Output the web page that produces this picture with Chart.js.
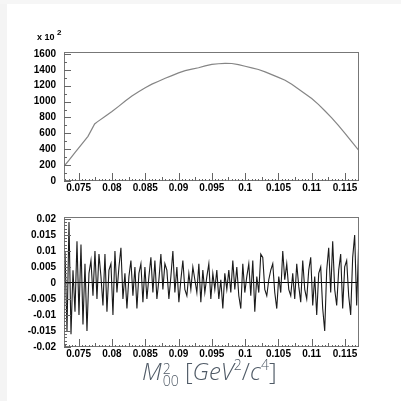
<!DOCTYPE html>
<html><head><meta charset="utf-8">
<script src="https://cdn.jsdelivr.net/npm/chart.js@4.4.1/dist/chart.umd.min.js"></script>
<style>
html,body{margin:0;padding:0;background:#fff;width:401px;height:401px;overflow:hidden;position:relative}
#strip{position:absolute;left:0;top:0;width:7px;height:401px;background:#f4f4f4}
#topstrip{position:absolute;left:0;top:0;width:401px;height:4px;background:#f6f6f6}
#c1{position:absolute;left:0;top:0}
#c2{position:absolute;left:0;top:200px}
#scale{position:absolute;left:37px;top:29px;font:bold 9px "Liberation Sans",Arial,sans-serif;color:#000;white-space:nowrap}
#scale sup{font-size:8px;position:relative;top:-1px}
#title{position:absolute;left:142px;top:357px;font-family:"Open Sans",sans-serif;font-weight:300;font-size:24px;color:#4f5a66;white-space:nowrap;line-height:28px}
#title i{font-style:italic}
#title .ss{display:inline-block;vertical-align:-6px;line-height:12px;font-size:14px;margin-left:1px}
#title sup{font-size:14px;vertical-align:10px;line-height:0}
</style>
</head><body>
<div id="strip"></div><div id="topstrip"></div>
<canvas id="c1" width="401" height="200"></canvas>
<canvas id="c2" width="401" height="170"></canvas>
<div id="scale">x 10 <sup>2</sup></div>
<div id="title"><i>M</i><span class="ss">2<br>00</span> [<i>GeV</i><sup>2</sup>/<i>c</i><sup>4</sup>]</div>
<script>
// ---- data ----
const xTickValues = [0.075, 0.08, 0.085, 0.09, 0.095, 0.1, 0.105, 0.11, 0.115];
const xTickLabels = ['0.075','0.08','0.085','0.09','0.095','0.1','0.105','0.11','0.115'];
const topTickValues = [0,200,400,600,800,1000,1200,1400,1600];
const topTickLabels = ['0','200','400','600','800','1000','1200','1400','1600'];
const botTickValues = [-0.02,-0.015,-0.01,-0.005,0,0.005,0.01,0.015,0.02];
const botTickLabels = ['-0.02','-0.015','-0.01','-0.005','0','0.005','0.01','0.015','0.02'];

const distX = [0.0728,0.0735,0.0745,0.0755,0.0764,0.0774,0.0778,0.079,0.080,0.081,0.082,0.083,0.084,0.085,0.086,0.087,0.088,0.089,0.090,0.091,0.092,0.093,0.094,0.095,0.096,0.097,0.098,0.099,0.100,0.101,0.102,0.103,0.104,0.105,0.106,0.107,0.108,0.109,0.110,0.111,0.112,0.113,0.114,0.115,0.116,0.1171];
const distY = [185,258,363,468,563,718,745,815,875,940,1008,1070,1125,1175,1220,1257,1295,1328,1362,1390,1410,1427,1450,1468,1477,1482,1480,1465,1445,1425,1405,1375,1340,1305,1270,1218,1160,1100,1040,965,882,795,700,600,495,382];

const resStart = 0.0728, resBinWidth = 0.0003;
const resY = [0.010,-0.015,0.019,-0.016,0.004,-0.009,0.013,-0.010,0.012,-0.013,
0.006,-0.015,0.003,0.007,-0.004,0.010,-0.005,0.009,0.002,-0.007,
0.009,-0.009,0.004,0.006,-0.010,0.010,-0.003,0.005,0.011,-0.005,
0.003,-0.008,0.002,0.007,-0.004,0.005,-0.008,0.003,0.006,-0.006,
0.005,-0.005,0.002,0.008,-0.003,0.007,-0.005,0.001,0.009,-0.002,
0.006,0.004,-0.005,0.002,0.010,-0.003,0.005,-0.006,0.001,0.007,
-0.002,-0.004,0.003,-0.002,0.005,0.001,-0.003,0.006,-0.006,0.004,
-0.003,0.002,0.006,-0.005,0.003,-0.002,0.004,-0.005,0.001,-0.008,
0.003,-0.002,0.004,-0.003,0.007,-0.002,0.005,-0.004,-0.008,0.006,
-0.003,0.002,0.006,-0.004,0.007,-0.009,0.002,-0.003,0.009,0.008,
-0.002,-0.004,0.001,0.004,0.006,-0.003,-0.008,0.002,-0.003,0.010,
0.001,0.006,-0.002,-0.004,0.003,-0.005,0.006,-0.001,-0.006,0.007,
-0.002,-0.005,0.004,0.008,-0.007,0.002,-0.010,0.003,0.005,-0.008,
-0.015,0.004,0.011,-0.003,0.013,-0.002,-0.007,0.004,0.009,-0.008,
0.005,0.007,-0.004,-0.010,0.008,0.015,-0.007,0.012];

// ---- drawing ----
const X_MIN = 0.0728, X_MAX = 0.1171;
const tickFont = {family:'"Liberation Sans", Arial, sans-serif', size:10, weight:'bold'};

const framePlugin = {
  id:'frameTicks',
  afterDraw(chart, args, opts){
    const {ctx, chartArea:a, scales} = chart;
    ctx.save();
    ctx.strokeStyle = '#777';
    ctx.lineWidth = 1;
    ctx.strokeRect(Math.round(a.left)+0.5, Math.round(a.top)+0.5, Math.round(a.right-a.left)-1, Math.round(a.bottom-a.top)-1);
    ctx.strokeStyle = '#666';
    ctx.beginPath();
    const xs = scales.x, ys = scales.y;
    for (let k = Math.ceil(X_MIN/0.0005); k*0.0005 <= X_MAX; k++) {
      const v = k*0.0005;
      const px = Math.round(xs.getPixelForValue(v))+0.5;
      let len = 2;
      if (k % 10 === 0) len = 8; else if (k % 5 === 0) len = 4;
      ctx.moveTo(px, a.bottom); ctx.lineTo(px, a.bottom-len);
    }
    const st = opts.yMinor, maj = opts.yMajorEvery;
    for (let k = Math.ceil(ys.min/st - 1e-6); k*st <= ys.max + 1e-9; k++) {
      const py = Math.round(ys.getPixelForValue(k*st))+0.5;
      const len = (k % maj === 0) ? 7 : 3;
      ctx.moveTo(a.left, py); ctx.lineTo(a.left+len, py);
    }
    ctx.stroke();
    ctx.restore();
  }
};

function xScale(h){
  return {
    type:'linear', min:X_MIN, max:X_MAX,
    afterBuildTicks: s => { s.ticks = xTickValues.map(v => ({value:v})); },
    afterFit: s => { s.height = h; },
    ticks:{ callback:(v,i) => xTickLabels[i], font:tickFont, color:'#000', padding:1, maxRotation:0, autoSkip:false },
    grid:{ display:false, drawTicks:false }, border:{ display:false }
  };
}

new Chart(document.getElementById('c1'), {
  type:'line',
  data:{ datasets:[{ data: distX.map((x,i)=>({x, y:distY[i]})), borderColor:'#858585', borderWidth:1.2, pointRadius:0, tension:0, fill:false }] },
  options:{
    responsive:false, animation:false, events:[],
    layout:{ padding:{ left:0, top:52, right:42, bottom:0 } },
    plugins:{ legend:{display:false}, tooltip:{enabled:false}, frameTicks:{ yMinor:100, yMajorEvery:2 } },
    scales:{
      x: xScale(19),
      y:{ type:'linear', min:0, max:1625,
        afterBuildTicks: s => { s.ticks = topTickValues.map(v => ({value:v})); },
        afterFit: s => { s.width = 64; },
        ticks:{ callback:(v,i) => topTickLabels[i], font:tickFont, color:'#000', padding:8 },
        grid:{ display:false, drawTicks:false }, border:{ display:false } }
    }
  },
  plugins:[framePlugin]
});

new Chart(document.getElementById('c2'), {
  type:'line',
  data:{ datasets:[{ data: resY.map((y,i)=>({x: resStart + (i+0.5)*resBinWidth, y})), borderColor:'#1a1a1a', borderWidth:1.1, pointRadius:0, tension:0, fill:false }] },
  options:{
    responsive:false, animation:false, events:[],
    layout:{ padding:{ left:0, top:17, right:42, bottom:0 } },
    plugins:{ legend:{display:false}, tooltip:{enabled:false}, frameTicks:{ yMinor:0.001, yMajorEvery:5 } },
    scales:{
      x: xScale(23),
      y:{ type:'linear', min:-0.02, max:0.0206,
        afterBuildTicks: s => { s.ticks = botTickValues.map(v => ({value:v})); },
        afterFit: s => { s.width = 64; },
        ticks:{ callback:(v,i) => botTickLabels[i], font:tickFont, color:'#000', padding:8 },
        grid:{ display:true, drawTicks:false, drawOnChartArea:true, lineWidth:1,
               color: c => (c.tick && c.tick.value === 0) ? '#000' : 'rgba(0,0,0,0)' },
        border:{ display:false } }
    }
  },
  plugins:[framePlugin]
});
</script>
</body></html>
